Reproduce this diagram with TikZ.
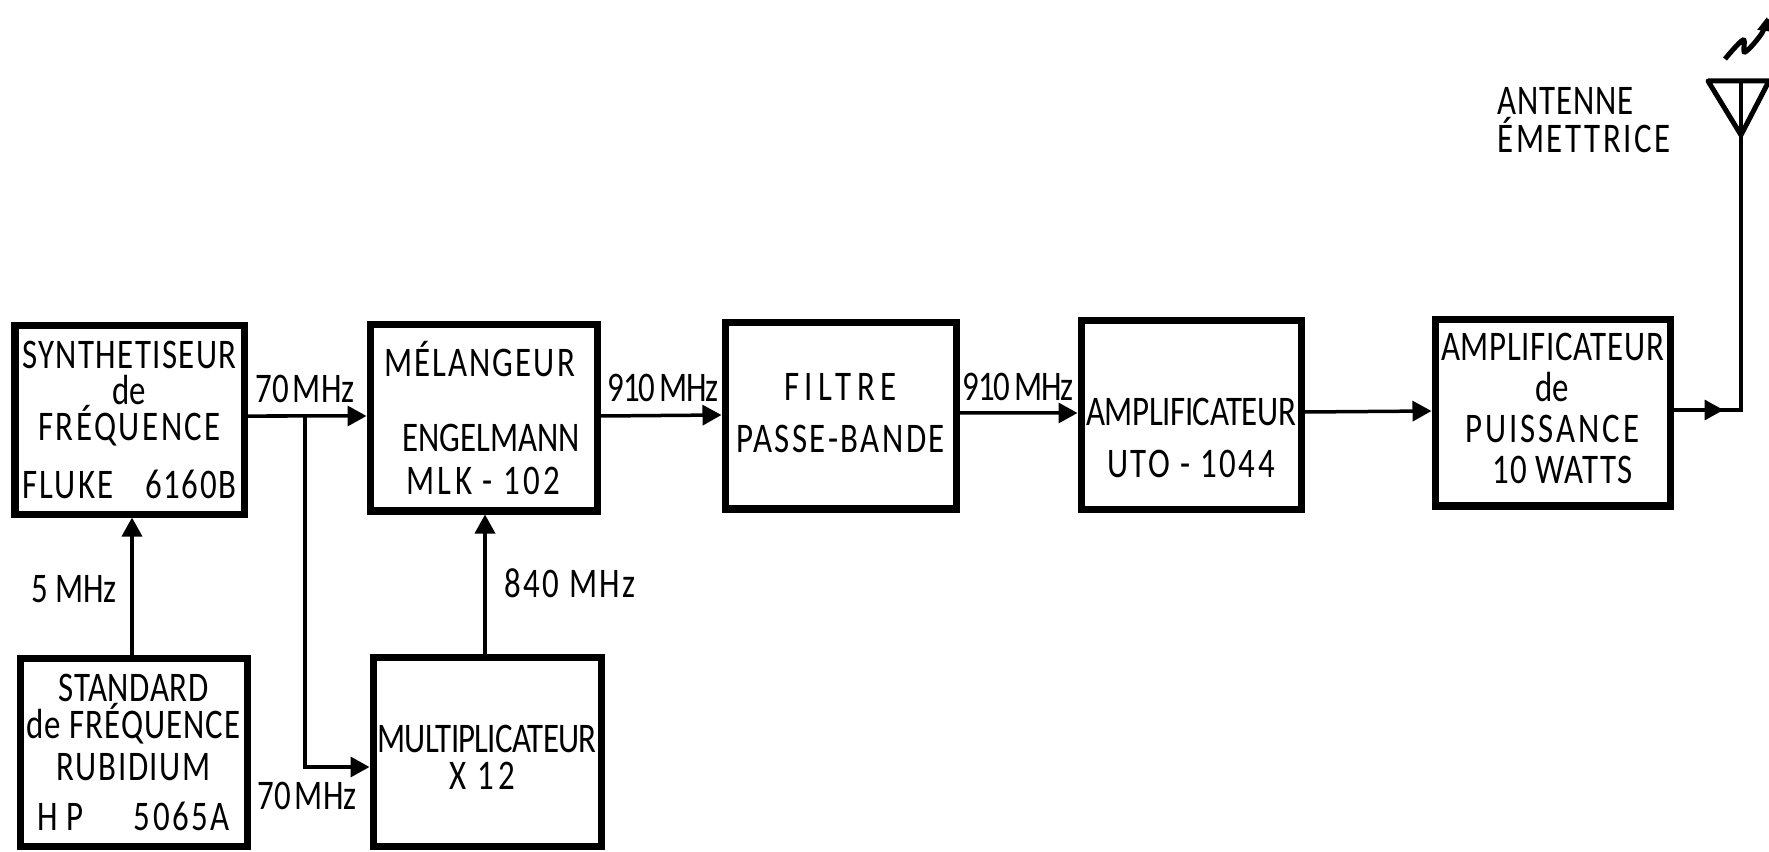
\documentclass[tikz,border=0pt]{standalone}
\usepackage{fontspec}
\setmainfont[FakeStretch=0.78]{Carlito}
\usetikzlibrary{arrows.meta}
\newcommand\wider[2]{{\addfontfeature{LetterSpace=#1}#2}}
\tikzset{
  blockbox/.style={draw, line width=.07cm, inner sep=0pt, align=center, font=\fontsize{12}{10.2}\selectfont},
  freqlabel/.style={inner sep=0pt, font=\fontsize{12}{9.9}\selectfont},
  link/.style={line width=.035cm, -{Triangle[length=.19cm,width=.2cm]}},
}
\begin{document}
\begin{tikzpicture}
   \useasboundingbox (0,0) rectangle (17.69,8.51);
   \node[blockbox, minimum width=2.29cm, minimum height=1.88cm] (synth) at (1.295,4.31)
      {\wider{3.3}{SYNTHETISEUR}\\de\\\wider{6}{FRÉQUENCE}\\[6.5pt]\wider{5}{FLUKE}\hspace{.75em}\wider{4}{6160B}};
   \node[blockbox, minimum width=2.27cm, minimum height=1.86cm] (mel) at (4.835,4.33)
      {\hspace*{-.08cm}\wider{5}{MÉLANGEUR}\\[11pt]\hspace*{.15cm}ENGELMANN\\[2pt]\wider{8}{MLK - 102}};
   \node[blockbox, minimum width=2.31cm, minimum height=1.86cm, text depth=.07cm] (filtre) at (8.405,4.35)
      {\wider{13}{FILTRE}\\[4.6pt]\wider{6}{PASSE-BANDE}};
   \node[blockbox, minimum width=2.20cm, minimum height=1.88cm] (ampli) at (11.91,4.36)
      {\mbox{}\\[10.5pt]\wider{-1}{AMPLIFICATEUR}\\[4.5pt]\wider{6}{UTO - 1044}};
   \node[blockbox, minimum width=2.35cm, minimum height=1.86cm, text depth=.09cm] (puis) at (15.525,4.38)
      {\wider{1.6}{AMPLIFICATEUR}\\[1.5pt]de\\[1.5pt]\wider{7}{PUISSANCE}\\[1.5pt]\hspace*{.2cm}\wider{3}{10 WATTS}};
   \node[blockbox, minimum width=2.27cm, minimum height=1.88cm] (std) at (1.335,.99)
      {\wider{1.5}{STANDARD}\\[.5pt]\wider{2.5}{de FRÉQUENCE}\\[1.6pt]\wider{4}{RUBIDIUM}\\[4pt]\wider{20}{HP}\hspace{1.2em}\wider{6}{5065A}};
   \node[blockbox, minimum width=2.28cm, minimum height=1.89cm] (mult) at (4.87,.99)
      {\mbox{}\\[.7pt]\wider{-1.8}{MULTIPLICATEUR}\\[.5pt]\hspace*{-.1cm}\wider{9}{X 12}};
   % frequencies
   \node[freqlabel] (f70a) at (3.05,4.62) {70\hspace{.1em}MHz};
   \node[freqlabel] (f910a) at (6.63,4.63) {\wider{-3}{910\hspace{.1em}MHz}};
   \node[freqlabel] (f910b) at (10.18,4.64) {\wider{-3}{910\hspace{.1em}MHz}};
   \node[freqlabel] (f5) at (.74,2.62) {5 MHz};
   \node[freqlabel] (f840) at (5.70,2.68) {\wider{6}{840 MHz}};
   \node[freqlabel] (f70b) at (3.07,.55) {70\hspace{.1em}MHz};
   \node[freqlabel, align=left, anchor=west] (ant) at (14.97,7.31) {\wider{2}{ANTENNE}\\\wider{6}{ÉMETTRICE}};
   % signal path
   \draw[link] ([yshift=.04cm]synth.east) -- ([yshift=.02cm]mel.west) coordinate[pos=.484] (tap);
   \draw[link] ([yshift=.02cm]mel.east) -- ([yshift=.01cm]filtre.west);
   \draw[link] ([yshift=.03cm]filtre.east) -- ([yshift=.02cm]ampli.west);
   \draw[link] ([yshift=.03cm]ampli.east) -- ([yshift=.02cm]puis.west);
   \draw[link] (std.north -| synth.south) ++(.025,0) -- ([xshift=.025cm]synth.south);
   \draw[link] (mult.north -| mel.south) ++(.015,0) -- ([xshift=.015cm]mel.south);
   \draw[link] (tap) |- ([yshift=-.15cm]mult.west);
   % antenna
   \coordinate (tip) at (17.41,7.16);
   \coordinate (tl) at (17.08,7.70);
   \coordinate (tr) at (17.69,7.70);
   \coordinate (tm) at (17.41,7.70);
   \coordinate (bend) at (17.41,4.41);
   \draw[link] ([yshift=.03cm]puis.east) -- ++(.5,0);
   \draw[line width=.035cm] ([yshift=.03cm]puis.east) -- (bend) -- (tip);
   \draw[line width=.05cm, line join=round] (tl) -- (tr) -- (tip) -- cycle;
   \draw[line width=.035cm] (tm) -- (tip);
   % wave
   \draw[line width=.05cm, -{Triangle[length=.14cm,width=.15cm]}]
      plot[smooth, tension=.6] coordinates {(17.25,7.92) (17.43,8.11) (17.45,7.99) (17.62,8.18) (17.67,8.34)};
\end{tikzpicture}
\end{document}
